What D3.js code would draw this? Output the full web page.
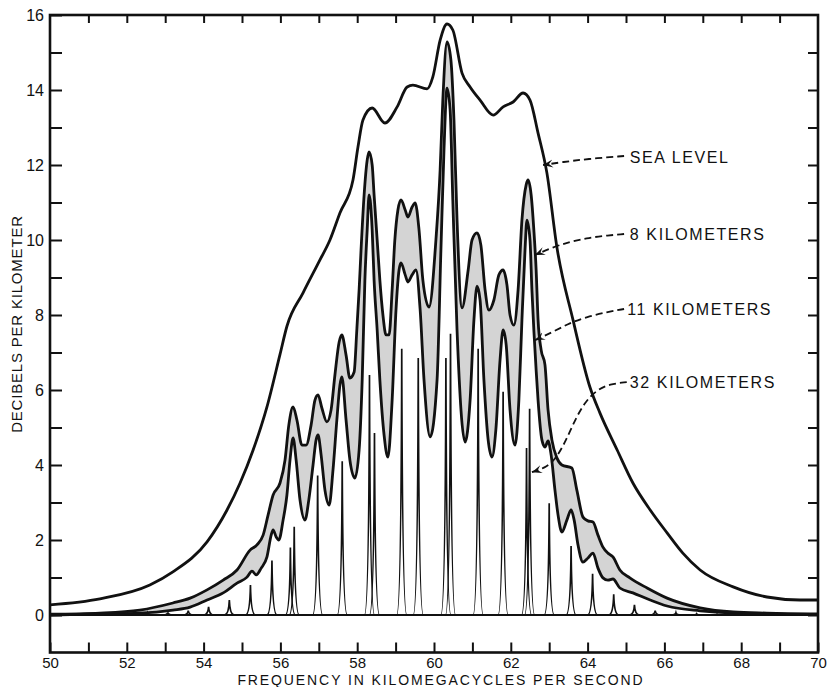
<!DOCTYPE html>
<html>
<head>
<meta charset="utf-8">
<script src="https://cdn.jsdelivr.net/npm/d3@7"></script>
<style>
  body { margin: 0; background: #fff; }
  svg text { font-family: "Liberation Sans", Arial, sans-serif; fill: #111; }
</style>
</head>
<body>
<svg id="chart" width="829" height="687"></svg>
<script>
// absorption curves, [frequency (kMc/s), dB per km]
const seaLevel = [
  [50.00, 0.27], [51.30, 0.43], [52.60, 0.80], [53.20, 1.15], [54.09, 1.95], [54.61, 2.80],
  [54.95, 3.52], [55.29, 4.40], [55.65, 5.55], [55.99, 6.95], [56.17, 7.70], [56.59, 8.59],
  [57.03, 9.47], [57.29, 10.00], [57.55, 10.72], [57.89, 11.60], [58.02, 12.48], [58.15, 13.20],
  [58.39, 13.52], [58.72, 13.12], [59.04, 13.55], [59.30, 14.08], [59.45, 14.13], [59.82, 14.03],
  [59.97, 14.35], [60.16, 15.33], [60.34, 15.76], [60.49, 15.60], [60.73, 14.45], [60.94, 14.08],
  [61.20, 13.73], [61.54, 13.33], [61.80, 13.55], [62.06, 13.68], [62.32, 13.92], [62.50, 13.73],
  [62.71, 12.85], [62.94, 11.79], [63.20, 9.81], [63.62, 7.87], [64.06, 6.08], [64.32, 5.39],
  [64.77, 4.40], [65.18, 3.52], [65.63, 2.80], [66.07, 2.19], [66.48, 1.65], [66.93, 1.20],
  [67.79, 0.75], [68.67, 0.48], [69.53, 0.40], [70.00, 0.40]
];

const km8 = [
  [50.00, 0.02], [51.30, 0.05], [52.34, 0.13], [53.20, 0.32], [53.65, 0.45], [54.09, 0.67],
  [54.51, 0.93], [54.87, 1.20], [55.21, 1.73], [55.39, 1.87], [55.55, 2.13], [55.68, 2.67],
  [55.81, 3.20], [55.99, 3.52], [56.12, 4.13], [56.22, 5.07], [56.33, 5.55], [56.43, 5.20],
  [56.56, 4.53], [56.67, 4.53], [56.80, 5.07], [56.90, 5.73], [56.98, 5.87], [57.08, 5.52],
  [57.21, 5.15], [57.32, 5.47], [57.42, 6.40], [57.53, 7.28], [57.60, 7.47], [57.71, 6.93],
  [57.81, 6.32], [57.92, 6.48], [57.99, 7.60], [58.05, 8.67], [58.10, 9.73], [58.18, 11.20],
  [58.26, 12.13], [58.31, 12.35], [58.39, 12.00], [58.44, 11.20], [58.52, 10.00], [58.59, 8.93],
  [58.67, 8.00], [58.75, 7.47], [58.83, 7.47], [58.91, 8.67], [58.98, 10.00], [59.06, 10.80],
  [59.14, 11.07], [59.25, 10.80], [59.32, 10.61], [59.43, 10.88], [59.51, 10.99], [59.61, 10.27],
  [59.71, 8.93], [59.87, 8.21], [60.05, 10.00], [60.16, 11.87], [60.23, 13.73], [60.34, 15.28],
  [60.44, 14.80], [60.52, 13.20], [60.60, 10.53], [60.73, 8.19], [60.89, 9.20], [60.99, 10.00],
  [61.12, 10.19], [61.22, 9.87], [61.33, 8.67], [61.43, 8.13], [61.56, 8.40], [61.69, 9.07],
  [61.80, 9.20], [61.90, 8.80], [61.98, 8.00], [62.08, 7.73], [62.19, 8.67], [62.29, 10.53],
  [62.40, 11.47], [62.45, 11.60], [62.53, 11.20], [62.60, 10.27], [62.66, 9.20], [62.71, 7.87],
  [62.79, 7.07], [62.89, 6.67], [62.97, 5.47], [63.07, 4.67], [63.20, 4.19], [63.33, 4.00],
  [63.59, 3.92], [63.72, 3.33], [63.88, 2.61], [64.01, 2.51], [64.14, 2.48], [64.27, 2.13],
  [64.40, 1.81], [64.53, 1.65], [64.66, 1.55], [64.84, 1.20], [65.10, 0.99], [65.55, 0.72],
  [66.07, 0.45], [66.93, 0.19], [67.79, 0.08], [68.67, 0.05], [70.00, 0.03]
];

const km11 = [
  [50.00, 0.00], [51.30, 0.03], [52.34, 0.05], [53.20, 0.13], [53.65, 0.21], [54.09, 0.40],
  [54.51, 0.59], [54.87, 0.85], [55.13, 1.01], [55.26, 1.17], [55.37, 1.07], [55.50, 1.25],
  [55.65, 1.55], [55.76, 2.13], [55.81, 2.27], [55.89, 2.08], [55.96, 2.00], [56.07, 2.53],
  [56.17, 3.20], [56.25, 4.13], [56.33, 4.72], [56.41, 4.13], [56.51, 3.07], [56.64, 2.53],
  [56.74, 3.07], [56.85, 4.00], [56.93, 4.67], [56.98, 4.80], [57.06, 4.27], [57.16, 3.33],
  [57.27, 2.93], [57.37, 3.87], [57.47, 5.20], [57.55, 6.13], [57.60, 6.35], [57.71, 5.20],
  [57.81, 4.13], [57.94, 3.65], [58.05, 4.40], [58.13, 6.27], [58.20, 8.93], [58.26, 10.27],
  [58.31, 11.20], [58.39, 10.27], [58.44, 8.93], [58.52, 7.60], [58.59, 6.27], [58.70, 4.80],
  [58.80, 4.21], [58.91, 5.73], [59.01, 8.13], [59.09, 9.20], [59.14, 9.39], [59.25, 9.07],
  [59.32, 8.88], [59.43, 9.07], [59.53, 9.20], [59.64, 8.13], [59.74, 6.27], [59.90, 4.75],
  [60.08, 6.27], [60.18, 9.73], [60.26, 12.40], [60.34, 14.05], [60.42, 13.47], [60.49, 11.07],
  [60.60, 7.60], [60.81, 4.61], [60.94, 5.73], [61.04, 7.87], [61.12, 8.77], [61.20, 8.40],
  [61.30, 6.27], [61.41, 4.67], [61.51, 4.21], [61.61, 4.93], [61.72, 6.80], [61.80, 7.60],
  [61.88, 7.20], [61.98, 5.47], [62.11, 4.53], [62.21, 5.73], [62.29, 7.87], [62.37, 9.73],
  [62.42, 10.53], [62.50, 10.00], [62.55, 8.67], [62.60, 7.60], [62.66, 6.53], [62.71, 5.73],
  [62.81, 4.67], [62.89, 4.48], [62.97, 4.64], [63.05, 4.27], [63.15, 3.33], [63.23, 2.67],
  [63.33, 2.21], [63.46, 2.53], [63.57, 2.80], [63.65, 2.53], [63.75, 1.87], [63.88, 1.41],
  [64.01, 1.52], [64.14, 1.65], [64.27, 1.25], [64.40, 0.99], [64.53, 0.93], [64.66, 0.96],
  [64.84, 0.72], [65.18, 0.59], [65.63, 0.40], [66.07, 0.24], [66.93, 0.11], [67.79, 0.05],
  [70.00, 0.01]
];

// 32 km: individual resolved lines
const lineFreq = [51.50, 52.02, 52.54, 53.07, 53.60, 54.13, 54.67, 55.22, 55.78, 56.26, 56.36,
  56.97, 57.61, 58.32, 58.45, 59.16, 59.59, 60.31, 60.43, 61.15, 61.80, 62.41, 62.49, 63.00,
  63.57, 64.13, 64.68, 65.22, 65.76, 66.30, 66.84, 67.37];
const lineHeight32 = [0.03, 0.04, 0.05, 0.07, 0.12, 0.22, 0.40, 0.80, 1.45, 1.80, 2.35,
  3.72, 4.10, 6.40, 4.85, 7.10, 6.85, 6.85, 7.50, 7.10, 5.95, 4.45, 5.50, 2.98,
  1.84, 1.10, 0.55, 0.27, 0.12, 0.06, 0.03, 0.02];

const xTickLabels = [50, 52, 54, 56, 58, 60, 62, 64, 66, 68, 70];
const yTickLabels = [0, 2, 4, 6, 8, 10, 12, 14, 16];

const curveLabels = ["SEA LEVEL", "8 KILOMETERS", "11 KILOMETERS", "32 KILOMETERS"];

// callout positions (data units)
const callouts = [
  { text: curveLabels[0], at: [65.10, 12.21], path: [[64.95, 12.24], [63.98, 12.16], [63.36, 12.08], [62.84, 12.00]] },
  { text: curveLabels[1], at: [65.10, 10.16], path: [[64.95, 10.16], [64.40, 10.11], [63.98, 10.05], [63.54, 9.95], [63.10, 9.81], [62.63, 9.60]] },
  { text: curveLabels[2], at: [65.03, 8.16], path: [[64.95, 8.16], [64.51, 8.08], [63.98, 7.95], [63.54, 7.79], [63.10, 7.55], [62.63, 7.33]] },
  { text: curveLabels[3], at: [65.10, 6.21], path: [[65.02, 6.21], [64.58, 6.16], [64.24, 6.00], [63.93, 5.68], [63.67, 5.20], [63.41, 4.59], [63.15, 4.13], [62.89, 3.92], [62.55, 3.81]] }
];

const svg = d3.select("#chart");
const x = d3.scaleLinear().domain([50, 70]).range([50, 818]);
const y = d3.scaleLinear().domain([-1, 16]).range([652.5, 15]);

const line = d3.line().x(d => x(d[0])).y(d => y(d[1])).curve(d3.curveMonotoneX);
const area = d3.area().x(d => x(d[0])).y0(y(0)).y1(d => y(d[1])).curve(d3.curveMonotoneX);

// band between 8 km and 11 km
svg.append("path").attr("d", area(km8)).attr("fill", "#d4d4d4");
svg.append("path").attr("d", area(km11)).attr("fill", "#fff");

// 32 km curve
svg.append("line")
  .attr("x1", x(50)).attr("x2", x(70)).attr("y1", y(0)).attr("y2", y(0))
  .attr("stroke", "#111").attr("stroke-width", 2.2);

const hw = 5;
svg.append("g").selectAll("path")
  .data(lineFreq.map((f, i) => [f, lineHeight32[i]]))
  .enter()
  .append("path")
  .attr("d", d => {
    const cx = x(d[0]), yb = y(0), yt = y(d[1]);
    return "M" + (cx - hw) + "," + yb + "Q" + (cx - 0.6) + "," + yb + " " + cx + "," + yt +
      "Q" + (cx + 0.6) + "," + yb + " " + (cx + hw) + "," + yb;
  })
  .attr("fill", "none").attr("stroke", "#111").attr("stroke-width", 1.7);

[km11, km8, seaLevel].forEach(s => {
  svg.append("path").attr("d", line(s))
    .attr("fill", "none").attr("stroke", "#111").attr("stroke-width", 2.8)
    .attr("stroke-linejoin", "round");
});

// axes, ticks pointing inward
const axBottom = svg.append("g").attr("transform", "translate(0," + y(-1) + ")")
  .call(d3.axisBottom(x).tickValues(d3.range(50, 71)).tickSizeInner(-10).tickSizeOuter(0)
    .tickFormat(d => xTickLabels.includes(d) ? d : ""));
const axTop = svg.append("g").attr("transform", "translate(0," + y(16) + ")")
  .call(d3.axisTop(x).tickValues(d3.range(51, 70)).tickSizeInner(-8).tickSizeOuter(0).tickFormat(""));
const axLeft = svg.append("g").attr("transform", "translate(" + x(50) + ",0)")
  .call(d3.axisLeft(y).tickValues(d3.range(0, 17)).tickSizeInner(-12).tickSizeOuter(0).tickPadding(6)
    .tickFormat(d => yTickLabels.includes(d) ? d : ""));
const axRight = svg.append("g").attr("transform", "translate(" + x(70) + ",0)")
  .call(d3.axisRight(y).tickValues(d3.range(0, 16)).tickSizeInner(-10).tickSizeOuter(0).tickFormat(""));

[axBottom, axTop, axLeft, axRight].forEach(g => {
  g.select(".domain").remove();
  g.selectAll(".tick line").attr("stroke", "#111").attr("stroke-width", 2);
  g.selectAll(".tick text").attr("font-size", 16).attr("fill", "#111")
    .style("font-family", "'Liberation Sans', Arial, sans-serif");
});
axBottom.selectAll(".tick text").attr("font-size", 15).attr("y", 15.5).attr("dy", 0);

svg.append("rect")
  .attr("x", x(50)).attr("y", y(16)).attr("width", x(70) - x(50)).attr("height", y(-1) - y(16))
  .attr("fill", "none").attr("stroke", "#111").attr("stroke-width", 2.6);

svg.append("text")
  .attr("x", 441).attr("y", 685)
  .attr("text-anchor", "middle").attr("font-size", 14).attr("letter-spacing", 1.9)
  .text("FREQUENCY IN KILOMEGACYCLES PER SECOND");

svg.append("text")
  .attr("transform", "translate(22," + 324 + ") rotate(-90)")
  .attr("text-anchor", "middle").attr("font-size", 15).attr("letter-spacing", 0.8)
  .text("DECIBELS PER KILOMETER");

// callouts
svg.append("defs").append("marker")
  .attr("id", "arrow").attr("viewBox", "-10 -5 12 10")
  .attr("markerWidth", 12).attr("markerHeight", 10).attr("refX", 0).attr("refY", 0)
  .attr("markerUnits", "userSpaceOnUse").attr("orient", "auto")
  .append("path").attr("d", "M-10,-4 L0,0 L-10,4 L-6,0 Z").attr("fill", "#111");

const calloutLine = d3.line().x(d => x(d[0])).y(d => y(d[1])).curve(d3.curveBasis);
callouts.forEach(c => {
  svg.append("path").attr("d", calloutLine(c.path))
    .attr("fill", "none").attr("stroke", "#111").attr("stroke-width", 1.8)
    .attr("stroke-dasharray", "7,4").attr("marker-end", "url(#arrow)");
  svg.append("text")
    .attr("x", x(c.at[0])).attr("y", y(c.at[1])).attr("dy", "0.36em")
    .attr("font-size", 16).attr("letter-spacing", 1.6)
    .text(c.text);
});
</script>
</body>
</html>
